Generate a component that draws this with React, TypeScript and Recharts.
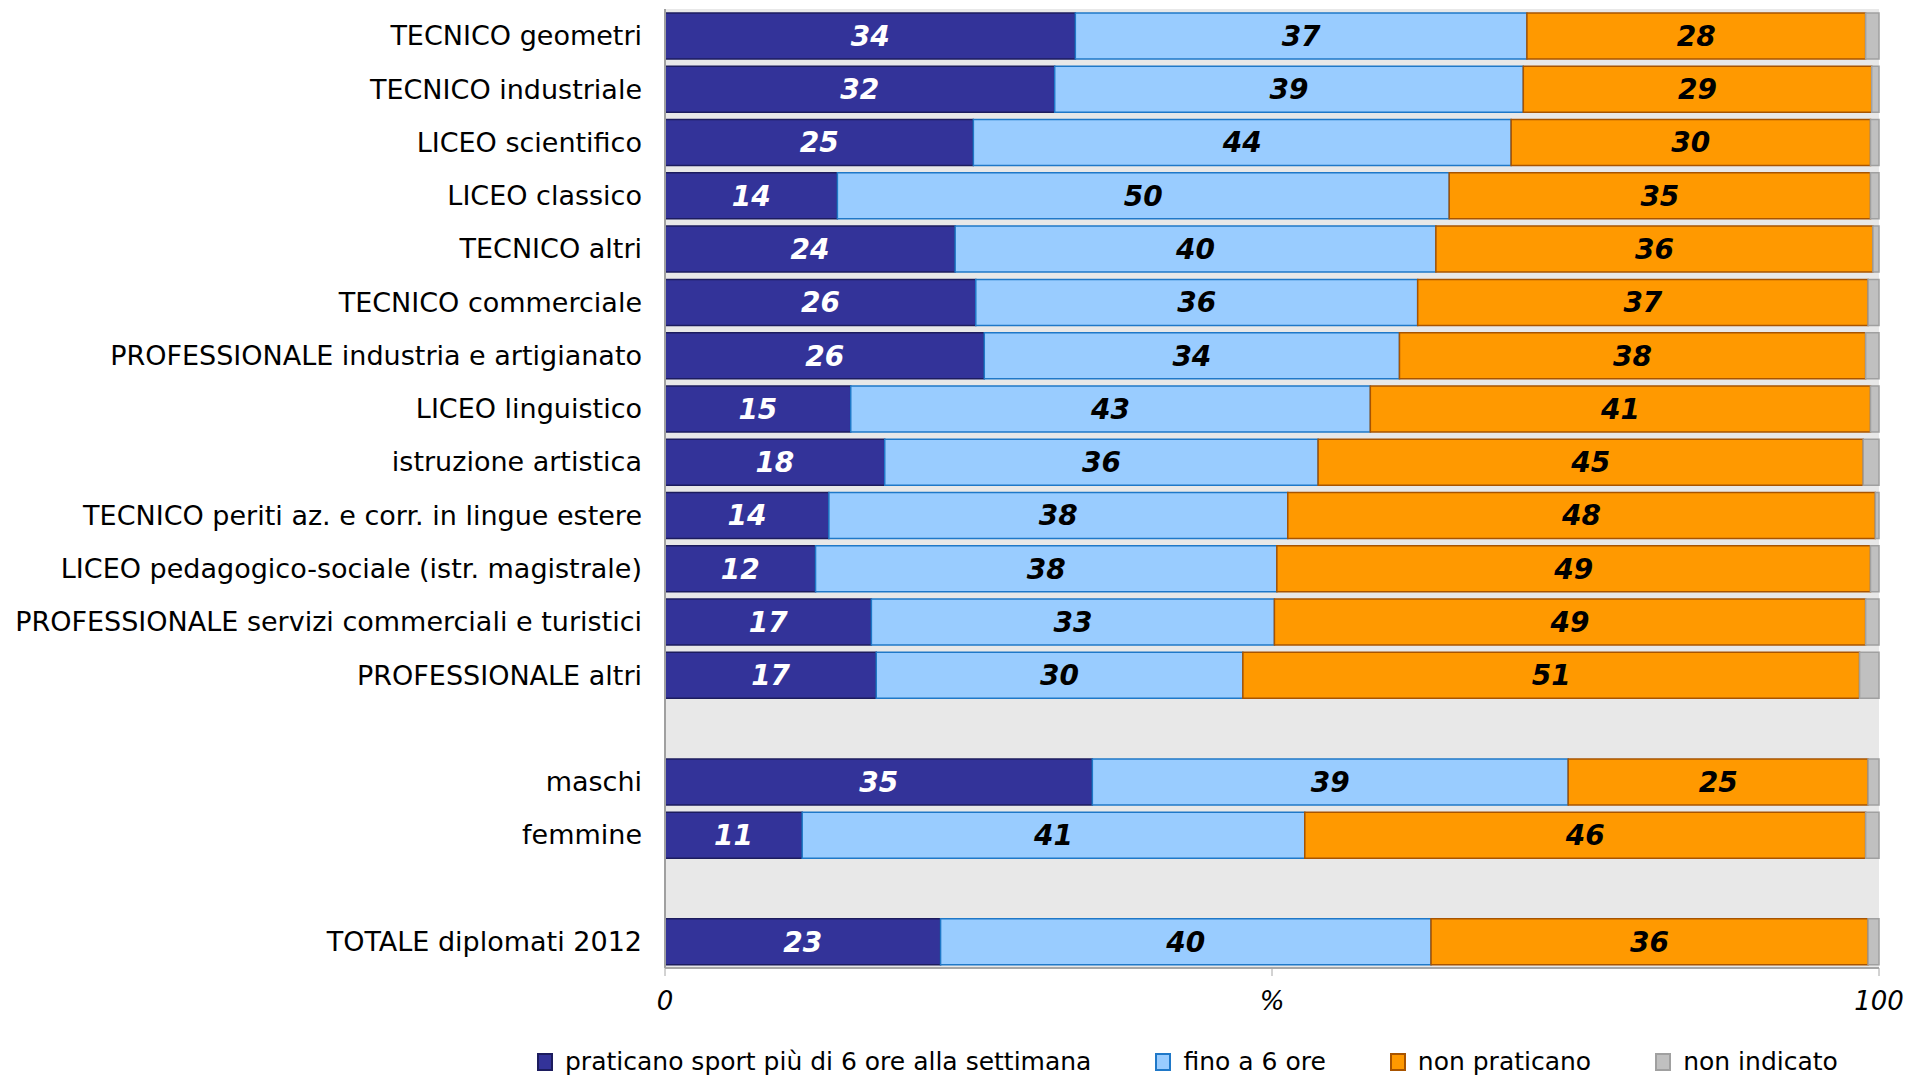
import {
  BarChart,
  Bar,
  XAxis,
  YAxis,
  CartesianGrid,
  LabelList,
} from "recharts";

// Righe del grafico (le righe vuote fanno da separatore)
const categories = [
  "TECNICO geometri",
  "TECNICO industriale",
  "LICEO scientifico",
  "LICEO classico",
  "TECNICO altri",
  "TECNICO commerciale",
  "PROFESSIONALE industria e artigianato",
  "LICEO linguistico",
  "istruzione artistica",
  "TECNICO periti az. e corr. in lingue estere",
  "LICEO pedagogico-sociale (istr. magistrale)",
  "PROFESSIONALE servizi commerciali e turistici",
  "PROFESSIONALE altri",
  " ",
  "maschi",
  "femmine",
  "  ",
  "TOTALE diplomati 2012",
];

const oltre6 = [33.8, 32.1, 25.4, 14.2, 23.9, 25.6, 26.3, 15.3, 18.1, 13.5, 12.4, 17.0, 17.4, null, 35.2, 11.3, null, 22.7];
const fino6 = [37.2, 38.6, 44.3, 50.4, 39.6, 36.4, 34.2, 42.8, 35.7, 37.8, 38.0, 33.2, 30.2, null, 39.2, 41.4, null, 40.4];
const nonPraticano = [27.9, 28.7, 29.6, 34.7, 36.0, 37.1, 38.4, 41.2, 44.9, 48.4, 48.9, 48.7, 50.8, null, 24.7, 46.2, null, 36.0];
const nonIndicato = [1.1, 0.6, 0.7, 0.7, 0.5, 0.9, 1.1, 0.7, 1.3, 0.3, 0.7, 1.1, 1.6, null, 0.9, 1.1, null, 0.9];

const xTicks = [0, 50, 100];

const SERIES = [
  { key: "oltre6", name: "praticano sport più di 6 ore alla settimana", fill: "#333399", stroke: "#1c1c5e", label: "#ffffff" },
  { key: "fino6", name: "fino a 6 ore", fill: "#99ccff", stroke: "#1f78c8", label: "#000000" },
  { key: "nonPraticano", name: "non praticano", fill: "#ff9900", stroke: "#a85400", label: "#000000" },
  { key: "nonIndicato", name: "non indicato", fill: "#c0c0c0", stroke: "#a0a0a0", label: null },
];

const FONT = "'DejaVu Sans', Verdana, sans-serif";

const chartData = categories.map((name, i) => ({
  name,
  oltre6: oltre6[i],
  fino6: fino6[i],
  nonPraticano: nonPraticano[i],
  nonIndicato: nonIndicato[i],
}));

export default function App() {
  return (
    <div
      style={{
        position: "absolute",
        left: 0,
        top: 0,
        width: 1908,
        height: 1075,
        background: "#ffffff",
        fontFamily: FONT,
        overflow: "hidden",
      }}
    >
      <BarChart
        width={1908}
        height={1075}
        data={chartData}
        layout="vertical"
        barSize={46}
        margin={{ top: 9, right: 29, left: 0, bottom: 57 }}
      >
        <CartesianGrid fill="#e8e8e8" horizontal={false} vertical={false} />
        <XAxis
          type="number"
          domain={[0, 100]}
          ticks={xTicks}
          height={50}
          tickFormatter={(v) => (v === 50 ? "%" : String(v))}
          axisLine={{ stroke: "#a6a6a6", strokeWidth: 2 }}
          tickLine={{ stroke: "#a6a6a6" }}
          tickSize={8}
          tickMargin={16}
          tick={{ fontSize: 26, fontStyle: "italic", fill: "#000000", fontFamily: FONT }}
        />
        <YAxis
          type="category"
          dataKey="name"
          width={665}
          interval={0}
          axisLine={{ stroke: "#a0a0a0", strokeWidth: 2 }}
          tickLine={false}
          tickSize={0}
          tickMargin={23}
          tick={{ fontSize: 27, fill: "#000000", fontFamily: FONT }}
        />
        {SERIES.map((s) => (
          <Bar
            key={s.key}
            dataKey={s.key}
            name={s.name}
            stackId="a"
            fill={s.fill}
            stroke={s.stroke}
            strokeWidth={1.5}
            isAnimationActive={false}
          >
            {s.label && (
              <LabelList
                dataKey={s.key}
                position="center"
                formatter={(v: any) => (v == null ? "" : Math.round(v))}
                style={{
                  fill: s.label,
                  fontSize: 28,
                  fontWeight: "bold",
                  fontStyle: "italic",
                  fontFamily: FONT,
                }}
              />
            )}
          </Bar>
        ))}
      </BarChart>

      {/* Legenda */}
      <div
        style={{
          position: "absolute",
          left: 537,
          top: 1047,
          display: "flex",
          alignItems: "center",
          fontSize: 25,
          color: "#000000",
          whiteSpace: "nowrap",
        }}
      >
        {SERIES.map((s, i) => (
          <div
            key={s.key}
            style={{
              display: "flex",
              alignItems: "center",
              marginRight: i < SERIES.length - 1 ? 64 : 0,
            }}
          >
            <span
              style={{
                display: "inline-block",
                width: 12,
                height: 14,
                background: s.fill,
                border: `2px solid ${s.stroke}`,
                marginRight: 12,
              }}
            />
            <span>{s.name}</span>
          </div>
        ))}
      </div>
    </div>
  );
}
